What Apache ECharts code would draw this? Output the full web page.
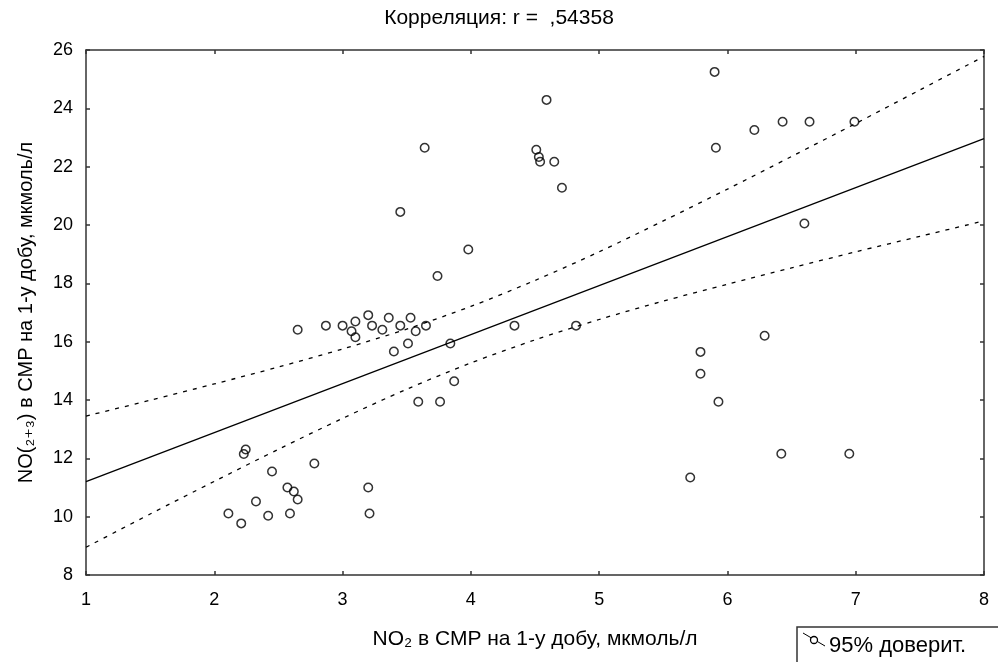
<!DOCTYPE html>
<html><head><meta charset="utf-8">
<script src="https://cdn.jsdelivr.net/npm/echarts@6/dist/echarts.min.js"></script>
<style>html,body{margin:0;padding:0;background:#fff}#c{width:998px;height:662px}</style>
</head><body><div id="c"></div>
<script>
// NO2 (x) and NO(2+3) (y) per patient
const no2 = [2.65, 2.87, 3.00, 3.07, 3.10, 3.10, 3.20, 3.23, 3.31, 3.36, 3.45, 3.40, 3.51, 3.53, 3.57, 3.65,
  2.245, 2.23, 2.45, 2.78, 2.57, 2.62, 2.65, 2.325, 2.11, 2.21, 2.42, 2.59, 3.20, 3.21,
  4.59, 3.64, 4.51, 4.53, 4.54, 4.65, 4.71, 3.45, 3.98, 3.74, 3.84, 4.34, 4.82, 3.87, 3.59, 3.76,
  5.90, 5.91, 6.21, 6.43, 6.64, 6.99, 6.60, 6.29, 5.79, 5.79, 5.93, 6.42, 6.95, 5.71];
const no23 = [16.41, 16.55, 16.55, 16.36, 16.69, 16.15, 16.91, 16.55, 16.41, 16.82, 16.55, 15.66, 15.94, 16.82, 16.36, 16.55,
  12.30, 12.15, 11.55, 11.82, 11.00, 10.86, 10.59, 10.52, 10.11, 9.77, 10.03, 10.11, 11.00, 10.11,
  24.29, 22.65, 22.58, 22.33, 22.17, 22.17, 21.28, 20.45, 19.16, 18.25, 15.94, 16.55, 16.55, 14.64, 13.94, 13.94,
  25.25, 22.65, 23.26, 23.54, 23.54, 23.54, 20.05, 16.20, 15.65, 14.90, 13.94, 12.16, 12.16, 11.34];
// regression line
const fitX = [1, 8];
const fitY = [11.2, 22.96];
// 95% confidence band
const bandX = [1, 1.5, 2, 2.5, 3, 3.5, 4, 4.5, 5, 5.5, 6, 6.5, 7, 7.5, 8];
const bandUpper = [13.45, 13.99, 14.55, 15.13, 15.75, 16.43, 17.21, 18.10, 19.08, 20.14, 21.23, 22.35, 23.48, 24.63, 25.78];
const bandLower = [8.95, 10.09, 11.21, 12.31, 13.37, 14.37, 15.27, 16.06, 16.76, 17.39, 17.97, 18.53, 19.08, 19.61, 20.14];
const titleText = 'Корреляция: r =  ,54358';
const xName = 'NO₂ в СМР на 1-у добу, мкмоль/л';
const yName = 'NO(₂₊₃) в СМР на 1-у добу, мкмоль/л';
const legendText = '95% доверит.';

const FONT = '"Liberation Sans", Arial, "DejaVu Sans", sans-serif';
const zip = (a, b) => a.map((v, i) => [v, b[i]]);
const axisLineStyle = { color: '#333', width: 1.5 };
const chart = echarts.init(document.getElementById('c'), null, { renderer: 'canvas' });
chart.setOption({
  backgroundColor: '#fff',
  animation: false,
  title: { text: titleText, left: 'center', top: 3, textStyle: { fontFamily: FONT, fontSize: 21, fontWeight: 'normal', color: '#000' } },
  grid: { left: 86, right: 14, top: 50, bottom: 87, containLabel: false },
  xAxis: [{
    type: 'value', min: 1, max: 8, interval: 1,
    name: xName, nameLocation: 'middle', nameGap: 54,
    nameTextStyle: { fontFamily: FONT, fontSize: 21, color: '#000' },
    axisLine: { show: true, onZero: false, lineStyle: axisLineStyle },
    axisTick: { show: true, inside: true, length: 4, lineStyle: axisLineStyle },
    axisLabel: { fontFamily: FONT, fontSize: 18, color: '#000', margin: 16 },
    splitLine: { show: false }
  }, {
    type: 'value', min: 1, max: 8, interval: 1, position: 'top',
    axisLine: { show: true, onZero: false, lineStyle: axisLineStyle },
    axisTick: { show: true, inside: true, length: 4, lineStyle: axisLineStyle },
    axisLabel: { show: false }, splitLine: { show: false }
  }],
  yAxis: [{
    type: 'value', min: 8, max: 26, interval: 2,
    name: yName, nameLocation: 'middle', nameGap: 50, nameRotate: 90,
    nameTextStyle: { fontFamily: FONT, fontSize: 20, color: '#000' },
    axisLine: { show: true, onZero: false, lineStyle: axisLineStyle },
    axisTick: { show: true, inside: true, length: 4, lineStyle: axisLineStyle },
    axisLabel: { fontFamily: FONT, fontSize: 18, color: '#000', margin: 13 },
    splitLine: { show: false }
  }, {
    type: 'value', min: 8, max: 26, interval: 2, position: 'right',
    axisLine: { show: true, onZero: false, lineStyle: axisLineStyle },
    axisTick: { show: true, inside: true, length: 4, lineStyle: axisLineStyle },
    axisLabel: { show: false }, splitLine: { show: false }
  }],
  series: [
    { type: 'line', data: zip(fitX, fitY), showSymbol: false, lineStyle: { color: '#000', width: 1.3 }, z: 2 },
    { type: 'line', data: zip(bandX, bandUpper), showSymbol: false, smooth: 0.3, lineStyle: { color: '#000', width: 1.3, type: [4, 6] }, z: 2 },
    { type: 'line', data: zip(bandX, bandLower), showSymbol: false, smooth: 0.3, lineStyle: { color: '#000', width: 1.3, type: [4, 6] }, z: 2 },
    { type: 'scatter', data: zip(no2, no23), symbol: 'circle', symbolSize: 8.5,
      itemStyle: { color: 'rgba(255,255,255,0)', borderColor: '#000', borderWidth: 1.5 }, z: 3 }
  ],
  graphic: [
    { type: 'rect', shape: { x: 797, y: 627, width: 210, height: 40 }, style: { fill: '#fff', stroke: '#333', lineWidth: 1.5 } },
    { type: 'line', shape: { x1: 803, y1: 633, x2: 825, y2: 646 }, style: { stroke: '#000', lineWidth: 1 } },
    { type: 'circle', shape: { cx: 814, cy: 640, r: 3.5 }, style: { fill: '#fff', stroke: '#000', lineWidth: 1.3 } },
    { type: 'text', x: 829, y: 646, style: { text: legendText, font: '22px ' + FONT, fill: '#000', textVerticalAlign: 'middle' } }
  ]
});
</script></body></html>
